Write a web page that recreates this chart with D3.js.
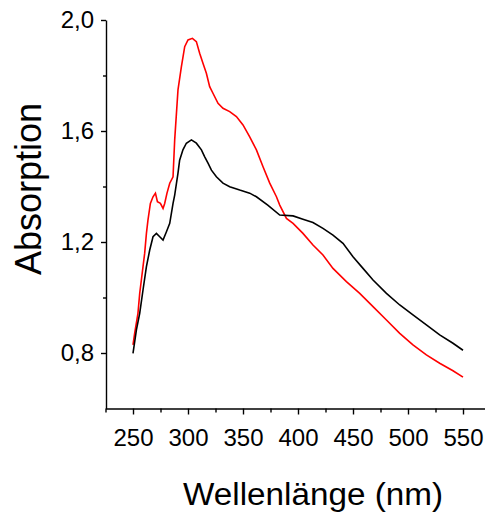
<!DOCTYPE html>
<html><head><meta charset="utf-8">
<script src="https://cdn.jsdelivr.net/npm/d3@7"></script>
<style>body{margin:0;background:#fff}svg{display:block}text{font-family:"Liberation Sans",Arial,sans-serif;fill:#000}</style>
</head><body><svg id="c" width="485" height="514"></svg>
<script>
const xMajorTicks = [250, 300, 350, 400, 450, 500, 550];
const xMinorTicks = [225, 275, 325, 375, 425, 475, 525, 575];
const yMajorTicks = [0.8, 1.2, 1.6, 2.0];
const yMinorTicks = [1.0, 1.4, 1.8];
const xLabel = "Wellenlänge (nm)";
const yLabel = "Absorption";

const redWavelength = [250,251.5,254.5,256.1,257.6,259.1,260.6,262.2,263.6,265.8,268.2,270.4,272.2,274.9,277.3,278.8,280.9,283.4,286.4,287.9,290.9,294,297,300,304,307.6,310.6,313.6,316.7,319.7,322.7,327.3,331.8,337.9,344,350,356.1,362.2,368.2,374.3,380.4,383.4,389.5,395.5,404.5,413.6,422.7,431.8,444,456.1,468.2,480.4,492.5,504.5,516.7,528.8,540.9,550];
const redAbsorption = [0.829,0.871,0.943,1.015,1.063,1.111,1.159,1.231,1.279,1.339,1.363,1.376,1.345,1.339,1.321,1.339,1.376,1.412,1.435,1.568,1.748,1.832,1.904,1.928,1.934,1.922,1.880,1.844,1.808,1.760,1.736,1.700,1.682,1.670,1.652,1.622,1.579,1.532,1.471,1.412,1.363,1.333,1.285,1.267,1.231,1.189,1.153,1.105,1.057,1.015,0.967,0.919,0.871,0.829,0.793,0.763,0.736,0.713];

const blackWavelength = [250,253.1,256.1,259.1,262.2,265.2,268.2,271.3,274.3,277.3,280.4,283.4,286.4,287.9,290.9,292.4,295.4,298.5,303.1,307.6,312.2,315.2,318.2,321.3,325.8,331.8,337.9,347,356.1,362.2,372.5,383.4,395.5,404.5,413.6,422.7,431.8,440.9,450,459.1,468.2,480.4,492.5,504.5,516.7,528.8,540.9,550];
const blackAbsorption = [0.799,0.883,0.943,1.027,1.111,1.171,1.219,1.231,1.219,1.207,1.237,1.267,1.339,1.369,1.448,1.495,1.532,1.556,1.568,1.556,1.532,1.507,1.484,1.459,1.435,1.412,1.399,1.387,1.376,1.363,1.333,1.297,1.294,1.282,1.270,1.249,1.225,1.195,1.147,1.105,1.063,1.015,0.973,0.937,0.901,0.865,0.835,0.810];

const svg = d3.select("#c");
const x = d3.scaleLinear().domain([225, 575]).range([105.5, 490.5]);
const y = d3.scaleLinear().domain([0.6, 2.0]).range([408.5, 20]);

const fmt = d => d3.format(".1f")(d).replace(".", ",");

// x axis
const gx = svg.append("g").attr("transform", "translate(0,408.5)");
gx.call(d3.axisBottom(x).tickValues(xMajorTicks).tickSize(6).tickSizeOuter(0).tickPadding(14));
gx.append("g").call(d3.axisBottom(x).tickValues(xMinorTicks).tickSize(4).tickFormat(""))
  .select(".domain").remove();
gx.selectAll("text").attr("font-size", 24).style("font-family", '"Liberation Sans",Arial,sans-serif').attr("fill", "#000");

// y axis
const gy = svg.append("g").attr("transform", "translate(106,0)");
gy.call(d3.axisLeft(y).tickValues(yMajorTicks).tickSize(5).tickSizeOuter(0).tickPadding(7).tickFormat(fmt));
gy.append("g").call(d3.axisLeft(y).tickValues(yMinorTicks).tickSize(3).tickFormat(""))
  .select(".domain").remove();
gy.selectAll("text").attr("font-size", 24).style("font-family", '"Liberation Sans",Arial,sans-serif').attr("fill", "#000");

svg.selectAll(".domain, .tick line").attr("stroke", "#000").attr("stroke-width", 1.4);

const line = d3.line().x(d => x(d[0])).y(d => y(d[1]));
svg.append("path").datum(redWavelength.map((w, i) => [w, redAbsorption[i]]))
  .attr("d", line).attr("fill", "none").attr("stroke", "#ff0000").attr("stroke-width", 1.6);
svg.append("path").datum(blackWavelength.map((w, i) => [w, blackAbsorption[i]]))
  .attr("d", line).attr("fill", "none").attr("stroke", "#000").attr("stroke-width", 1.6);

svg.append("text").attr("x", 313).attr("y", 505).attr("text-anchor", "middle")
  .attr("font-size", 31).attr("textLength", 260).attr("lengthAdjust", "spacingAndGlyphs").text(xLabel);
svg.append("text").attr("transform", "translate(41,189) rotate(-90)").attr("text-anchor", "middle")
  .attr("font-size", 36).attr("textLength", 172).attr("lengthAdjust", "spacingAndGlyphs").text(yLabel);
</script></body></html>
